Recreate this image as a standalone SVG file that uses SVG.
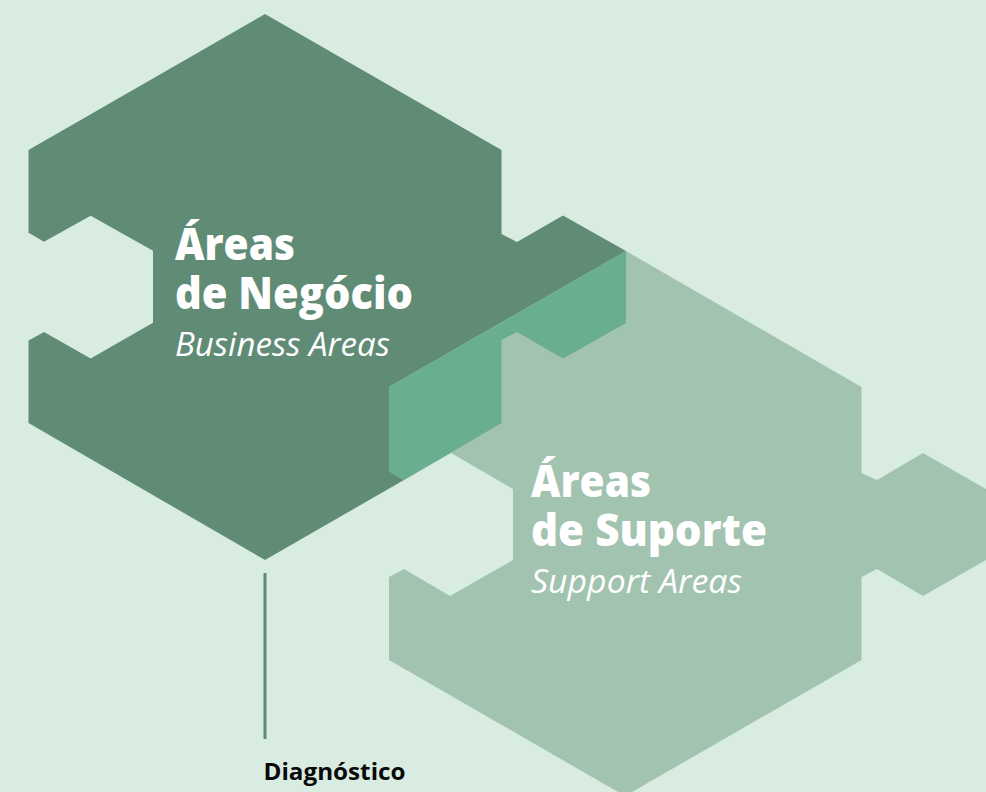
<svg xmlns="http://www.w3.org/2000/svg" width="986" height="792" viewBox="0 0 986 792">
<style>
.bg{fill:#d9ece2}
.title{font-family:"Open Sans","Noto Sans",sans-serif;font-weight:800;font-size:45px;fill:#fff}
.sub{font-family:"Open Sans","Noto Sans",sans-serif;font-style:italic;font-size:33px;fill:#fff}
.lab{font-family:"Open Sans","Noto Sans",sans-serif;font-weight:700;font-size:24px;fill:#0a0a0a}
</style>
<rect class="bg" width="986" height="792"/>
<g id="suporte">
<polygon fill="#a2c3af" points="626,251 861.500,387 861.500,473 877,480 923,453 986,489 986,560 923,596 877,569 861.500,577 861.500,660 625,796 389,660 389,577 404,569 450,596 513,560 513,489 451,453 404,480 389,471 389,387"/>
<text class="title" x="531" y="497" textLength="120" lengthAdjust="spacingAndGlyphs">Áreas</text>
<text class="title" x="531" y="546" textLength="236" lengthAdjust="spacingAndGlyphs">de Suporte</text>
<text class="sub" x="531" y="593" textLength="211" lengthAdjust="spacingAndGlyphs">Support Areas</text>
</g>
<g id="negocio">
<polygon fill="#608c75" points="265,14 501.500,150 501.500,234 517,242 563,215.500 626,251 389,387 389,471 404,480 265,560 28.500,423 28.500,340.500 44,332 90.700,358.500 153,322.700 153,250.700 90.700,215.700 44,241.700 28.500,232.700 28.500,150"/>
<text class="title" x="175" y="260" textLength="120" lengthAdjust="spacingAndGlyphs">Áreas</text>
<text class="title" x="175" y="309" textLength="238" lengthAdjust="spacingAndGlyphs">de Negócio</text>
<text class="sub" x="175" y="356" textLength="215" lengthAdjust="spacingAndGlyphs">Business Areas</text>
</g>
<g id="sobreposicao">
<polygon fill="#69ae8f" points="626,251 626,323 563,358.500 517,332 501.500,340 501.500,423 404,480 389,471 389,387"/>
</g>
<g id="conectores">
<line x1="265" y1="573" x2="265" y2="739" stroke="#608c75" stroke-width="3"/>
</g>
<g id="diagnostico">
<text class="lab" x="263.500" y="780" textLength="142" lengthAdjust="spacingAndGlyphs">Diagnóstico</text>
</g>
</svg>
